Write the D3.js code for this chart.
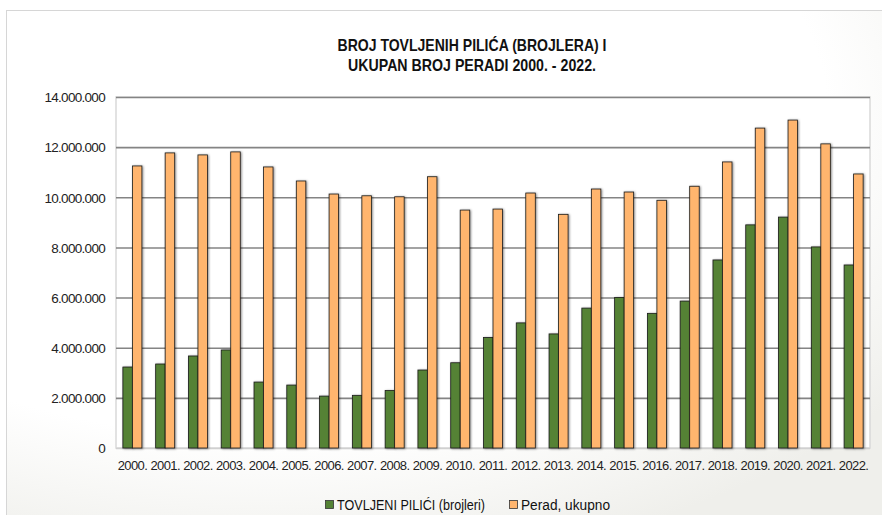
<!DOCTYPE html>
<html>
<head>
<meta charset="utf-8">
<script src="https://cdn.jsdelivr.net/npm/d3@7"></script>
<style>
  body { margin: 0; background: #fff; }
  text { font-family: "Liberation Sans", Arial, sans-serif; }
</style>
</head>
<body>
<div id="chart"></div>
<script>
var years = ["2000.","2001.","2002.","2003.","2004.","2005.","2006.","2007.","2008.","2009.","2010.","2011.",
             "2012.","2013.","2014.","2015.","2016.","2017.","2018.","2019.","2020.","2021.","2022."];
var broilers = [3230000, 3350000, 3670000, 3910000, 2630000, 2510000, 2070000, 2100000, 2290000, 3110000, 3400000, 4410000,
                4990000, 4550000, 5580000, 6000000, 5370000, 5860000, 7500000, 8900000, 9210000, 8020000, 7300000];
var poultry = [11250000, 11770000, 11690000, 11810000, 11210000, 10650000, 10130000, 10060000, 10020000, 10820000, 9490000, 9530000,
               10170000, 9320000, 10330000, 10210000, 9880000, 10440000, 11410000, 12760000, 13080000, 12130000, 10930000];
var seriesNames = ["TOVLJENI PILIĆI (brojleri)", "Perad, ukupno"];
var seriesColors = ["#548235", "#FFB56E"];
var yTicks = [0, 2000000, 4000000, 6000000, 8000000, 10000000, 12000000, 14000000];
var titleLines = ["BROJ TOVLJENIH PILIĆA (BROJLERA) I", "UKUPAN BROJ PERADI 2000. - 2022."];

var W = 882, H = 515;
var margin = {top: 97, right: 12, bottom: 67, left: 116};

var svg = d3.select("#chart").append("svg")
    .attr("width", W)
    .attr("height", H);

var defs = svg.append("defs");
var grad = defs.append("radialGradient")
    .attr("id", "bg")
    .attr("cx", "30%").attr("cy", "20%").attr("r", "90%");
grad.append("stop").attr("offset", "0%").attr("stop-color", "#ffffff");
grad.append("stop").attr("offset", "70%").attr("stop-color", "#ffffff");
grad.append("stop").attr("offset", "100%").attr("stop-color", "#efefeb");

var shadow = defs.append("filter").attr("id", "shadow")
    .attr("x", "-20%").attr("y", "-5%").attr("width", "160%").attr("height", "110%");
shadow.append("feDropShadow")
    .attr("dx", 1).attr("dy", 0.5).attr("stdDeviation", 0.8)
    .attr("flood-color", "#000").attr("flood-opacity", 0.45);

// chart frame
svg.append("rect")
    .attr("x", 6.5).attr("y", 10.5)
    .attr("width", W).attr("height", H)
    .attr("fill", "url(#bg)")
    .attr("stroke", "#d6d6d6")
    .attr("stroke-width", 1);

// title (bold face squeezed to the narrow widths of the reference)
var titleWidths = [269, 248];
svg.append("g").selectAll("text")
    .data(titleLines)
  .enter().append("text")
    .attr("x", 472)
    .attr("y", function(d, i) { return 51 + i * 20; })
    .attr("text-anchor", "middle")
    .attr("textLength", function(d, i) { return titleWidths[i]; })
    .attr("lengthAdjust", "spacingAndGlyphs")
    .style("font-weight", "bold")
    .style("font-size", "16.5px")
    .attr("fill", "#111")
    .text(function(d) { return d; });

var plotW = 870 - margin.left,
    plotH = 448 - margin.top;

var x = d3.scaleBand()
    .domain(years)
    .range([margin.left, margin.left + plotW])
    .padding(0);

var groupW = x.bandwidth() * 0.58;
var x1 = d3.scaleBand()
    .domain([0, 1])
    .range([(x.bandwidth() - groupW) / 2, (x.bandwidth() + groupW) / 2]);

var y = d3.scaleLinear()
    .domain([0, 14000000])
    .range([margin.top + plotH, margin.top]);

var fmt = function(v) { return d3.format(",")(v).replace(/,/g, "."); };

// plot area frame
svg.append("rect")
    .attr("x", margin.left).attr("y", margin.top)
    .attr("width", plotW).attr("height", plotH)
    .attr("fill", "#fff")
    .attr("stroke", "#d9d9d9")
    .attr("stroke-width", 1.5);

// gridlines
var yAxis = d3.axisLeft(y)
    .tickValues(yTicks)
    .tickSize(-plotW)
    .tickPadding(10)
    .tickFormat(fmt);

var ga = svg.append("g")
    .attr("transform", "translate(" + margin.left + ",0)")
    .call(yAxis);
ga.select(".domain").remove();
ga.selectAll(".tick line")
    .attr("stroke", function(d) { return d === 0 ? "#d0d0d0" : "#848484"; })
    .attr("stroke-width", 1.6);
ga.selectAll(".tick text")
    .attr("x", -11)
    .attr("dy", "0.35em")
    .style("font-size", "13.5px")
    .style("letter-spacing", "-0.7px")
    .attr("fill", "#222");

// bars
var groups = svg.append("g").selectAll("g")
    .data(years)
  .enter().append("g")
    .attr("transform", function(d) { return "translate(" + x(d) + ",0)"; });

groups.selectAll("rect")
    .data(function(d, i) { return [broilers[i], poultry[i]]; })
  .enter().append("rect")
    .attr("x", function(d, j) { return x1(j); })
    .attr("y", function(d) { return y(d); })
    .attr("width", x1.bandwidth())
    .attr("height", function(d) { return y(0) - y(d); })
    .attr("fill", function(d, j) { return seriesColors[j]; })
    .attr("stroke", "#1a1a1a")
    .attr("stroke-width", 0.8)
    .attr("filter", "url(#shadow)");

// x axis labels
var xAxis = d3.axisBottom(x).tickSize(0).tickPadding(13);
var gx = svg.append("g")
    .attr("transform", "translate(0," + y(0) + ")")
    .call(xAxis);
gx.select(".domain").remove();
gx.selectAll(".tick text")
    .style("font-size", "13px")
    .style("letter-spacing", "-0.6px")
    .attr("fill", "#222");

// legend
var legendX = [325, 509];
var legendWidths = [148, 89];
var legend = svg.append("g").selectAll("g")
    .data(seriesNames)
  .enter().append("g")
    .attr("transform", function(d, i) { return "translate(" + legendX[i] + ",500)"; });

legend.append("rect")
    .attr("x", 0.5).attr("y", 0.5)
    .attr("width", 8).attr("height", 8)
    .attr("fill", function(d, i) { return seriesColors[i]; })
    .attr("stroke", "#333")
    .attr("stroke-width", 0.8);

legend.append("text")
    .attr("x", 12)
    .attr("y", 9.5)
    .attr("textLength", function(d, i) { return legendWidths[i]; })
    .attr("lengthAdjust", "spacingAndGlyphs")
    .style("font-size", "14px")
    .attr("fill", "#111")
    .text(function(d) { return d; });
</script>
</body>
</html>
